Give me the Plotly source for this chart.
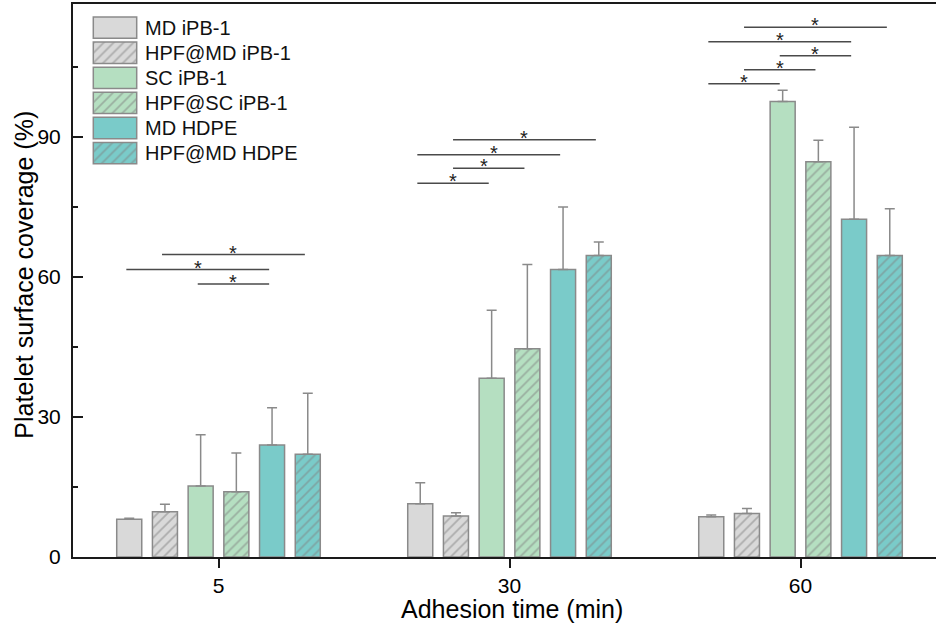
import plotly.graph_objects as go

# Adhesion times (x categories)
times = ["5", "30", "60"]

# Sample series
series = ["MD iPB-1", "HPF@MD iPB-1", "SC iPB-1", "HPF@SC iPB-1", "MD HDPE", "HPF@MD HDPE"]

# Mean platelet surface coverage (%) per time point
md_ipb = [8.1, 11.4, 8.6]
hpf_md_ipb = [9.7, 8.8, 9.3]
sc_ipb = [15.2, 38.3, 97.6]
hpf_sc_ipb = [14.0, 44.6, 84.7]
md_hdpe = [24.0, 61.6, 72.4]
hpf_md_hdpe = [22.0, 64.6, 64.6]

# Standard deviations (upper error bars)
md_ipb_sd = [0.2, 4.5, 0.4]
hpf_md_ipb_sd = [1.6, 0.7, 1.1]
sc_ipb_sd = [11.0, 14.6, 2.4]
hpf_sc_ipb_sd = [8.3, 18.1, 4.6]
md_hdpe_sd = [8.0, 13.4, 19.7]
hpf_md_hdpe_sd = [13.1, 2.9, 10.0]

# Significance brackets: (time index, first bar, second bar, height in %, star nudge px)
brackets = [
    (0, 1, 5, 64.8, 0), (0, 0, 4, 61.6, 0), (0, 2, 4, 58.5, 0),
    (1, 1, 5, 89.4, 0), (1, 0, 4, 86.2, 5), (1, 1, 3, 83.3, -5), (1, 0, 2, 80.1, 0),
    (2, 1, 5, 113.5, 0), (2, 0, 4, 110.4, 0), (2, 2, 4, 107.4, 0), (2, 1, 3, 104.4, 0),
    (2, 0, 2, 101.4, 0),
]

means = [md_ipb, hpf_md_ipb, sc_ipb, hpf_sc_ipb, md_hdpe, hpf_md_hdpe]
sds = [md_ipb_sd, hpf_md_ipb_sd, sc_ipb_sd, hpf_sc_ipb_sd, md_hdpe_sd, hpf_md_hdpe_sd]

GRAY = "#d9d9d9"
GREEN = "#b5dfc1"
TEAL = "#7acbc9"
EDGE = "#8a8a8a"
fills = [GRAY, GRAY, GREEN, GREEN, TEAL, TEAL]
hatched = [False, True, False, True, False, True]

FONT = "Arial, Liberation Sans, sans-serif"
STEP = 0.1227      # spacing between bars within a group (x units)
BAR_W = 0.086      # bar width (x units)


def bar_x(g, i):
    return g + (i - 2.5) * STEP


def marker_for(i):
    m = dict(color=fills[i], line=dict(color=EDGE, width=1.5))
    if hatched[i]:
        m["pattern"] = dict(shape="/", fgcolor="#7f7f7f", size=7, solidity=0.25)
    return m


fig = go.Figure()

for i, name in enumerate(series):
    fig.add_trace(go.Bar(
        name=name,
        x=[bar_x(g, i) for g in range(len(times))],
        y=means[i],
        width=[BAR_W] * len(times),
        marker=marker_for(i),
        error_y=dict(type="data", array=sds[i], arrayminus=[0] * len(times),
                     symmetric=False, color=EDGE, thickness=1.5, width=5),
        showlegend=False,
    ))

# Custom legend drawn on a pixel-scaled overlay axis (larger swatches)
LEG_X0, LEG_X1 = 93.3, 136.7
LEG_Y0, LEG_STEP, LEG_H = 27.7, 25.07, 21.3
for i, name in enumerate(series):
    cy = LEG_Y0 + i * LEG_STEP
    fig.add_trace(go.Bar(
        x=[(LEG_X0 + LEG_X1) / 2], y=[LEG_H], base=[cy - LEG_H / 2],
        width=[LEG_X1 - LEG_X0], marker=marker_for(i),
        xaxis="x2", yaxis="y2", showlegend=False, hoverinfo="skip",
    ))
    fig.add_annotation(x=143, y=cy, xref="x2", yref="y2", text=name, showarrow=False,
                       xanchor="left", yanchor="middle",
                       font=dict(family=FONT, size=20, color="#111"))

# Significance brackets with asterisks
for g, a, b, h, nudge in brackets:
    x0 = bar_x(g, a) - 0.01
    x1 = bar_x(g, b) - 0.01
    fig.add_shape(type="line", xref="x", yref="y", x0=x0, x1=x1, y0=h, y1=h,
                  line=dict(color="#4a4a4a", width=1.5))
    fig.add_annotation(x=(x0 + x1) / 2, y=h, xref="x", yref="y", text="*", showarrow=False,
                       xanchor="center", yanchor="middle", yshift=2, xshift=nudge,
                       font=dict(family=FONT, size=20, color="#222"))

# Axis titles
fig.add_annotation(text="Adhesion time (min)", xref="paper", yref="paper",
                   x=0.5087, y=-0.094, showarrow=False, xanchor="center", yanchor="middle",
                   font=dict(family=FONT, size=25, color="#000"))
fig.add_annotation(text="Platelet surface coverage (%)", xref="paper", yref="paper",
                   x=-0.0571, y=0.51, showarrow=False, textangle=-90,
                   xanchor="center", yanchor="middle",
                   font=dict(family=FONT, size=25, color="#000"))

fig.update_layout(
    width=936, height=625,
    margin=dict(l=73, r=0, t=4, b=68),
    plot_bgcolor="white", paper_bgcolor="white",
    barmode="overlay", showlegend=False,
    font=dict(family=FONT, color="#000"),
    xaxis=dict(range=[-0.5, 2.4656], tickvals=list(range(len(times))), ticktext=times,
               ticks="outside", ticklen=9, tickwidth=2, tickcolor="#1a1a1a",
               showline=True, linewidth=2, linecolor="#1a1a1a", mirror=True,
               showgrid=False, zeroline=False, tickfont=dict(size=21)),
    yaxis=dict(range=[0, 118.5], tickvals=[0, 30, 60, 90],
               ticks="inside", ticklen=10, tickwidth=2, tickcolor="#1a1a1a",
               minor=dict(dtick=15, tick0=0, ticks="inside", ticklen=5, tickwidth=2,
                          tickcolor="#1a1a1a", showgrid=False),
               showline=True, linewidth=2, linecolor="#1a1a1a",
               showgrid=False, zeroline=False, tickfont=dict(size=21),
               ticklabelstandoff=6),
    xaxis2=dict(overlaying="x", range=[73, 936], visible=False, fixedrange=True),
    yaxis2=dict(overlaying="y", range=[557, 4], visible=False, fixedrange=True),
)

fig.write_html("out.html")
